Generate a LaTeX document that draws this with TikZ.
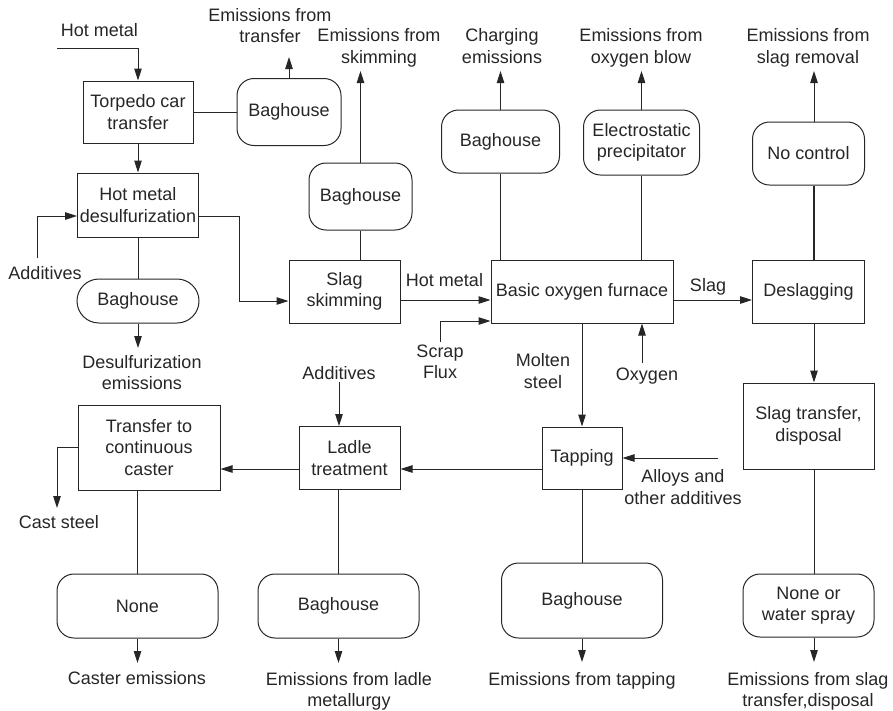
\documentclass[tikz,border=0pt]{standalone}
\usepackage{fontspec}
\setmainfont{Liberation Sans}
\usetikzlibrary{arrows.meta}
\tikzset{
  proc box/.style={draw,line width=1pt,align=center,inner sep=1pt},
  ctrl box/.style={proc box,rounded corners=17pt},
  flow label/.style={align=center,inner sep=2pt},
  flow edge/.style={-{Triangle[length=12pt,width=7.5pt]},line width=1pt},
  flow line/.style={line width=1pt},
  heavy line/.style={line width=1.9pt},
}

\begin{document}
\begin{tikzpicture}[x=1pt,y=-1pt,font=\fontsize{18}{21.5}\selectfont,color=black!85]
  \useasboundingbox (0,0) rectangle (893,710);
  % process boxes
  \node[proc box,minimum width=110pt,minimum height=62pt] (torpedo) at (138,112) {Torpedo car\\transfer};
  \node[proc box,minimum width=121pt,minimum height=64pt] (desulf) at (138,205) {Hot metal\\desulfurization};
  \node[proc box,minimum width=111pt,minimum height=63pt] (skim) at (344.5,291.5) {Slag\\skimming};
  \node[proc box,minimum width=182pt,minimum height=63pt] (bof) at (582,291.5) {Basic oxygen furnace};
  \node[proc box,minimum width=112pt,minimum height=63pt] (deslag) at (808.5,291.5) {Deslagging};
  \node[proc box,minimum width=131pt,minimum height=86pt] (slagtr) at (808.5,426) {Slag transfer,\\disposal};
  \node[proc box,minimum width=80pt,minimum height=62pt] (tapping) at (582,458) {Tapping};
  \node[proc box,minimum width=101pt,minimum height=63pt] (ladle) at (349.5,458) {Ladle\\treatment};
  \node[proc box,minimum width=142pt,minimum height=85pt] (caster) at (149,447.5) {Transfer to\\continuous\\caster};
  % control boxes
  \node[ctrl box,minimum width=104pt,minimum height=67pt] (bh transfer) at (289,112) {Baghouse};
  \node[ctrl box,rounded corners=22pt,minimum width=122pt,minimum height=44pt] (bh desulf) at (138,301) {Baghouse};
  \node[ctrl box,minimum width=103pt,minimum height=67pt] (bh skim) at (360.5,196.5) {Baghouse};
  \node[ctrl box,minimum width=118pt,minimum height=63pt] (bh charge) at (500.5,141.5) {Baghouse};
  \node[ctrl box,minimum width=116pt,minimum height=65pt] (esp) at (641.5,142.5) {Electrostatic\\precipitator};
  \node[ctrl box,minimum width=112pt,minimum height=63pt] (no ctrl) at (808.5,153.5) {No control};
  \node[ctrl box,minimum width=161pt,minimum height=64pt] (none) at (137.5,606) {None};
  \node[ctrl box,minimum width=161pt,minimum height=64pt] (bh ladle) at (338.5,606) {Baghouse};
  \node[ctrl box,minimum width=161pt,minimum height=75pt] (bh tap) at (582,600.5) {Baghouse};
  \node[ctrl box,minimum width=131pt,minimum height=63pt] (spray) at (808.5,605.5) {None or\\water spray};
  % stream labels
  \node[flow label] (l hot in) at (99.5,30.5) {Hot metal};
  \node[flow label] (l add desulf) at (45,273.5) {Additives};
  \node[flow label] (l hot mid) at (444.5,280.5) {Hot metal};
  \node[flow label] (l scrap) at (440,362) {Scrap\\Flux};
  \node[flow label] (l molten) at (543,371) {Molten\\steel};
  \node[flow label] (l oxygen) at (647,376.5) {Oxygen};
  \node[flow label] (l slag) at (708,286.5) {Slag};
  \node[flow label] (l add ladle) at (339,373.5) {Additives};
  \node[flow label] (l alloys) at (683,487) {Alloys and\\other additives};
  \node[flow label] (l cast) at (59,522.5) {Cast steel};
  % emission labels
  \node[flow label] (e transfer) at (270,25.5) {Emissions from\\transfer};
  \node[flow label] (e skim) at (379,48) {Emissions from\\skimming};
  \node[flow label] (e charge) at (502,46) {Charging\\emissions};
  \node[flow label] (e oxygen) at (641,48) {Emissions from\\oxygen blow};
  \node[flow label] (e slag rem) at (808,48) {Emissions from\\slag removal};
  \node[flow label] (e desulf) at (142,372.5) {Desulfurization\\emissions};
  \node[flow label] (e caster) at (137,678.5) {Caster emissions};
  \node[flow label] (e ladle) at (349,691.5) {Emissions from ladle\\metallurgy};
  \node[flow label] (e tap) at (582,680.5) {Emissions from tapping};
  \node[flow label] (e slag tr) at (808,691.5) {Emissions from slag\\transfer,disposal};
  % free ends
  \coordinate (hot in) at (57,48);
  \coordinate (add in) at (37,258);
  \coordinate (scrap in) at (440,342);
  \coordinate (oxy in) at (642,363);
  \coordinate (alloy in) at (718,458);
  \coordinate (t transfer) at (289,57);
  \coordinate (t skim) at (360.5,71);
  \coordinate (t charge) at (500.5,71);
  \coordinate (t oxygen) at (641.5,71);
  \coordinate (t slag rem) at (814,71);
  \coordinate (t desulf) at (138,348);
  \coordinate (t cast) at (57,508);
  \coordinate (t caster) at (137.5,663);
  \coordinate (t ladle) at (338.5,663);
  \coordinate (t tap) at (582,662);
  \coordinate (t slag tr) at (814,662);
  % main flow
  \draw[flow edge] (hot in) -| (torpedo.north);
  \draw[flow edge] (torpedo) -- (desulf);
  \draw[flow edge] (add in) |- ([yshift=-11pt]desulf.west);
  \draw[flow edge] ([yshift=-11pt]desulf.east) -- ++(40,0) |- ([yshift=-9.5pt]skim.west);
  \draw[flow edge] ([yshift=-8.5pt]skim.east) -- ([yshift=-8.5pt]bof.west);
  \draw[flow edge] (scrap in) |- ([yshift=-29.5pt]bof.west);
  \draw[flow edge] (oxy in) -- (oxy in |- bof.south);
  \draw[flow edge] ([yshift=-8.5pt]bof.east) -- ([yshift=-8.5pt]deslag.west);
  \draw[flow edge] ([xshift=5.5pt]deslag.south) -- ([xshift=5.5pt]slagtr.north);
  \draw[flow edge] (bof) -- (tapping);
  \draw[flow edge] (alloy in) -- (tapping.east);
  \draw[flow edge] ([yshift=-11pt]tapping.west) -- ([yshift=-11pt]ladle.east);
  \draw[flow edge] (l add ladle) -- (l add ladle |- ladle.north);
  \draw[flow edge] ([yshift=-11pt]ladle.west) -- ([yshift=-21.5pt]caster.east);
  \draw[flow edge] (caster.west) -| (t cast);
  % to controls
  \draw[flow line] (torpedo) -- (bh transfer);
  \draw[flow line] (desulf) -- (bh desulf);
  \draw[flow line] (bh skim.south) -- (bh skim.south |- skim.north);
  \draw[flow line] (bh charge.south) -- (bh charge.south |- bof.north);
  \draw[flow line] (esp.south) -- (esp.south |- bof.north);
  \draw[heavy line] ([xshift=5.5pt]no ctrl.south) -- ([xshift=5.5pt]deslag.north);
  \draw[flow line] ([xshift=5.5pt]slagtr.south) -- ([xshift=5.5pt]spray.north);
  \draw[flow line] (tapping) -- (bh tap);
  \draw[flow line] (bh ladle.north |- ladle.south) -- (bh ladle.north);
  \draw[flow line] (none.north |- caster.south) -- (none.north);
  % emissions
  \draw[flow edge] (bh transfer) -- (t transfer);
  \draw[flow edge] (bh skim) -- (t skim);
  \draw[flow edge] (bh charge) -- (t charge);
  \draw[flow edge] (esp) -- (t oxygen);
  \draw[flow edge] ([xshift=5.5pt]no ctrl.north) -- (t slag rem);
  \draw[flow edge] (bh desulf) -- (t desulf);
  \draw[flow edge] (none) -- (t caster);
  \draw[flow edge] (bh ladle) -- (t ladle);
  \draw[flow edge] (bh tap) -- (t tap);
  \draw[flow edge] ([xshift=5.5pt]spray.south) -- (t slag tr);
\end{tikzpicture}
\end{document}
